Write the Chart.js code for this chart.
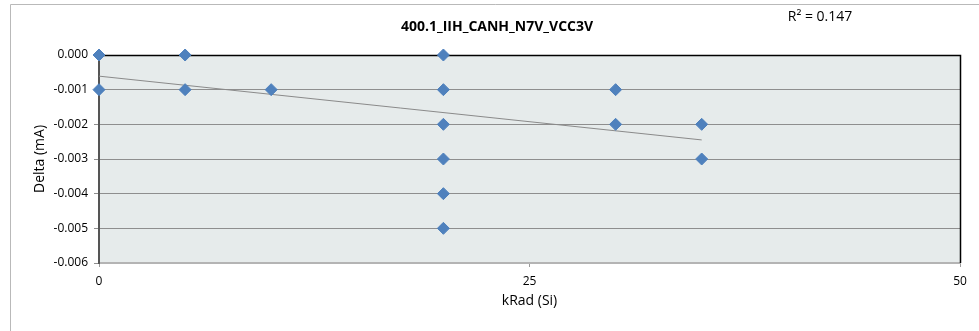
<!DOCTYPE html>
<html>
<head>
<meta charset="utf-8">
<title>400.1_IIH_CANH_N7V_VCC3V</title>
<script src="https://cdn.jsdelivr.net/npm/chart.js@4.4.1/dist/chart.umd.min.js"></script>
<style>
  html, body { margin: 0; padding: 0; background: #fff; }
  #chart { display: block; }
</style>
</head>
<body>
<canvas id="chart" width="979" height="331"></canvas>
<script>
// measured delta per dose step
const doseKrad = [0, 0, 5, 5, 10, 20, 20, 20, 20, 20, 20, 30, 30, 35, 35];
const deltaMA = [0, -0.001, 0, -0.001, -0.001, 0, -0.001, -0.002, -0.003, -0.004, -0.005, -0.001, -0.002, -0.002, -0.003];

// linear trend line end points
const trendDose = [0, 35];
const trendDelta = [-0.00061, -0.00245];

const chartTitle = "400.1_IIH_CANH_N7V_VCC3V";
const rSquaredText = "R\u00b2 = 0.147";

const xTicks = [0, 25, 50];
const yMin = -0.006;
const yMax = 0;
const yStep = 0.001;

const FONT = "'Open Sans', 'Liberation Sans', sans-serif";

const points = doseKrad.map((x, i) => ({ x: x, y: deltaMA[i] }));
const trend = trendDose.map((x, i) => ({ x: x, y: trendDelta[i] }));

// background, frame and text drawn around the plot
const framePlugin = {
  id: "frame",
  beforeDraw(chart) {
    const { ctx, chartArea: a } = chart;
    ctx.save();
    ctx.fillStyle = "#e6ebeb";
    ctx.fillRect(a.left, a.top, a.right - a.left, a.bottom - a.top);
    ctx.strokeStyle = "#b9b9b9";
    ctx.lineWidth = 1;
    ctx.beginPath();
    ctx.moveTo(10.5, 340);
    ctx.lineTo(10.5, 4.5);
    ctx.lineTo(990, 4.5);
    ctx.stroke();

    ctx.fillStyle = "#000";
    ctx.textAlign = "center";
    ctx.textBaseline = "middle";
    ctx.font = "bold 14px " + FONT;
    ctx.fillText(chartTitle, 497, 27);
    ctx.font = "14px " + FONT;
    ctx.fillText(rSquaredText, 820, 17);
    ctx.restore();
  },
  beforeDatasetsDraw(chart) {
    // top and right edges of the plot, under the markers
    const { ctx, chartArea: a } = chart;
    ctx.save();
    ctx.strokeStyle = "#000";
    ctx.lineWidth = 1.5;
    ctx.beginPath();
    ctx.moveTo(a.left, a.top + 0.5);
    ctx.lineTo(a.right + 0.5, a.top + 0.5);
    ctx.lineTo(a.right + 0.5, a.bottom);
    ctx.stroke();
    ctx.restore();
  }
};

new Chart(document.getElementById("chart"), {
  type: "scatter",
  data: {
    datasets: [
      {
        type: "line",
        label: "Trend",
        data: trend,
        borderColor: "#8a8a8a",
        borderWidth: 1,
        pointRadius: 0,
        fill: false,
        order: 2
      },
      {
        label: "Delta",
        data: points,
        pointStyle: "rectRot",
        pointRadius: 6,
        pointHoverRadius: 6,
        backgroundColor: "#4f81bd",
        borderColor: "#4f81bd",
        borderWidth: 1,
        clip: false,
        order: 1
      }
    ]
  },
  options: {
    responsive: false,
    animation: false,
    devicePixelRatio: 1,
    layout: { padding: { left: 10, top: 55, right: 19, bottom: 0 } },
    plugins: {
      legend: { display: false },
      title: { display: false },
      tooltip: { enabled: false }
    },
    scales: {
      x: {
        type: "linear",
        min: 0,
        max: 50,
        afterBuildTicks: (scale) => {
          scale.ticks = xTicks.map((v) => ({ value: v }));
        },
        afterFit: (scale) => { scale.height = 68; },
        grid: {
          drawOnChartArea: false,
          drawTicks: true,
          tickLength: 4,
          tickColor: "#9a9a9a"
        },
        border: { color: "#b4b4b4", width: 2 },
        ticks: {
          padding: 7,
          color: "#000",
          font: { family: FONT, size: 12 }
        },
        title: {
          display: true,
          text: "kRad (Si)",
          color: "#000",
          font: { family: FONT, size: 14 },
          padding: { top: 0, bottom: 22 }
        }
      },
      y: {
        min: yMin,
        max: yMax,
        afterFit: (scale) => { scale.width = 89; },
        ticks: {
          stepSize: yStep,
          padding: 6,
          color: "#000",
          font: { family: FONT, size: 12 },
          callback: (v) => (Math.abs(v) < 1e-9 ? 0 : v).toFixed(3)
        },
        grid: {
          color: "#8e8e8e",
          lineWidth: 1,
          tickLength: 5,
          tickColor: "#8e8e8e"
        },
        border: { color: "#555555", width: 2 },
        title: {
          display: true,
          text: "Delta (mA)",
          color: "#000",
          font: { family: FONT, size: 14 },
          padding: { top: 22, bottom: 0 }
        }
      }
    }
  },
  plugins: [framePlugin]
});
</script>
</body>
</html>
